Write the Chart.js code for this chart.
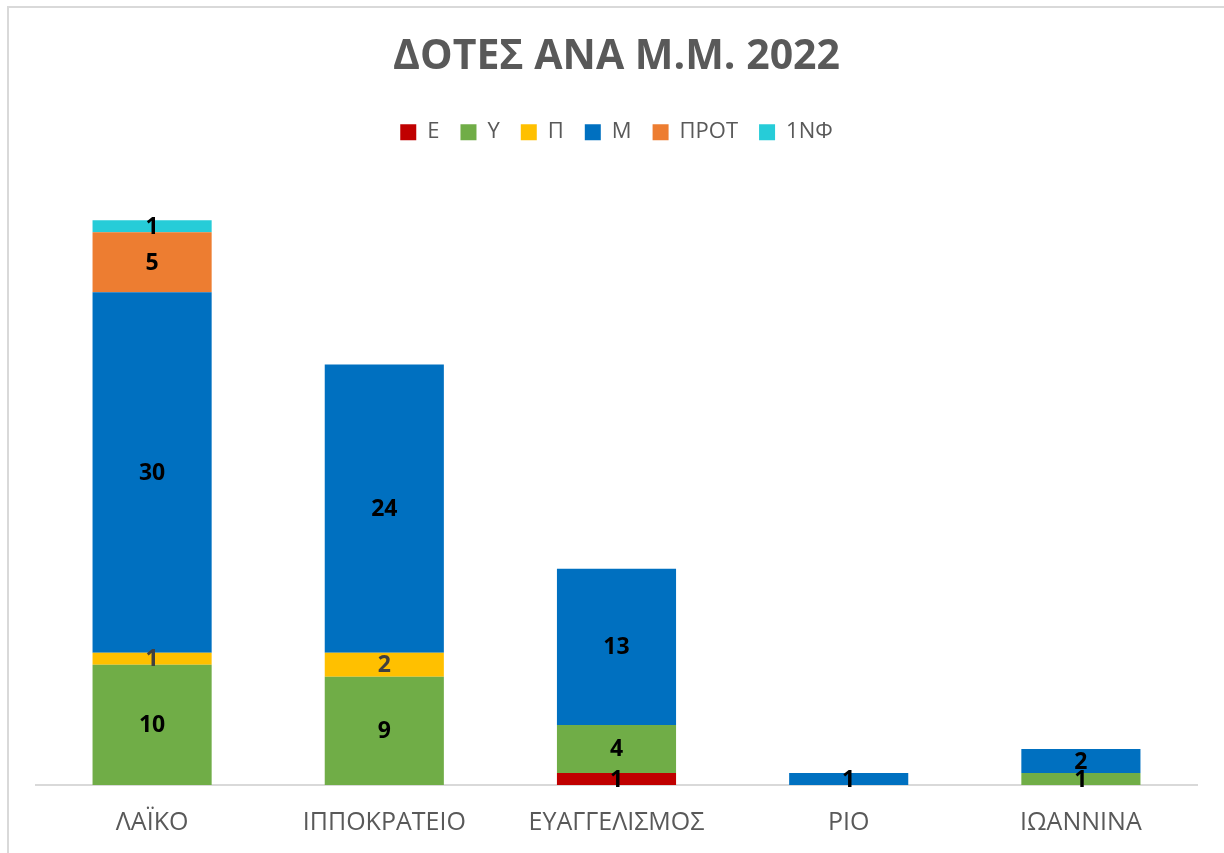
<!DOCTYPE html>
<html>
<head>
<meta charset="utf-8">
<script src="https://cdn.jsdelivr.net/npm/chart.js@4"></script>
<style>
    body { margin: 0; background: #fff; }
    #wrap { position: relative; width: 1224px; height: 853px; }
    #frame { position: absolute; left: 7px; top: 6px; width: 1230px; height: 860px; border: 2px solid #d9d9d9; box-sizing: border-box; pointer-events: none; }
    canvas { position: absolute; left: 0; top: 0; }
</style>
</head>
<body>
<div id="wrap">
    <canvas id="dotesChart" width="1224" height="853"></canvas>
    <div id="frame"></div>
</div>
<script>
const hospitals = ['ΛΑΪΚΟ', 'ΙΠΠΟΚΡΑΤΕΙΟ', 'ΕΥΑΓΓΕΛΙΣΜΟΣ', 'ΡΙΟ', 'ΙΩΑΝΝΙΝΑ'];
const seriesE    = [0, 0, 1, 0, 0];
const seriesY    = [10, 9, 4, 0, 1];
const seriesP    = [1, 2, 0, 0, 0];
const seriesM    = [30, 24, 13, 1, 2];
const seriesPROT = [5, 0, 0, 0, 0];
const series1NF  = [1, 0, 0, 0, 0];

const textGray = '#595959';

// draws the value in the middle of each segment
const segmentLabels = {
    id: 'segmentLabels',
    afterDatasetsDraw(chart) {
        const ctx = chart.ctx;
        ctx.save();
        ctx.font = 'bold 23px "Open Sans", sans-serif';
        ctx.textAlign = 'center';
        ctx.textBaseline = 'middle';
        chart.data.datasets.forEach((ds, i) => {
            const meta = chart.getDatasetMeta(i);
            meta.data.forEach((bar, j) => {
                const v = ds.data[j];
                if (!v) return;
                ctx.fillStyle = ds.labelColor || '#000';
                ctx.fillText(v, bar.x, (bar.y + bar.base) / 2 + 1);
            });
        });
        ctx.restore();
    }
};

// extra room under the legend
const legendGap = {
    id: 'legendGap',
    beforeInit(chart) {
        const fit = chart.legend.fit;
        chart.legend.fit = function () {
            fit.bind(chart.legend)();
            this.height += 31;
        };
    }
};

const ctx = document.getElementById('dotesChart').getContext('2d');
new Chart(ctx, {
    type: 'bar',
    data: {
        labels: hospitals,
        datasets: [
            { label: 'Ε', data: seriesE, backgroundColor: '#c00000' },
            { label: 'Υ', data: seriesY, backgroundColor: '#70ad47' },
            { label: 'Π', data: seriesP, backgroundColor: '#ffc000', labelColor: '#404040' },
            { label: 'Μ', data: seriesM, backgroundColor: '#0070c0' },
            { label: 'ΠΡΟΤ', data: seriesPROT, backgroundColor: '#ed7d31' },
            { label: '1ΝΦ', data: series1NF, backgroundColor: '#26ccd8' }
        ]
    },
    options: {
        responsive: false,
        animation: false,
        layout: { padding: { left: 36, right: 27, top: 27, bottom: 0 } },
        datasets: { bar: { barPercentage: 1, categoryPercentage: 0.513 } },
        plugins: {
            title: {
                display: true,
                text: 'ΔΟΤΕΣ ΑΝΑ Μ.Μ. 2022',
                color: textGray,
                font: { family: '"Open Sans", sans-serif', size: 41, weight: 'bold' },
                padding: { top: 6, bottom: 18 }
            },
            legend: {
                labels: {
                    color: textGray,
                    font: { family: '"Open Sans", sans-serif', size: 22 },
                    boxWidth: 16,
                    boxHeight: 16,
                    padding: 21
                }
            },
            tooltip: { enabled: false }
        },
        scales: {
            x: {
                stacked: true,
                grid: { display: false },
                border: { color: '#d9d9d9', width: 2 },
                ticks: {
                    color: textGray,
                    font: { family: '"Open Sans", sans-serif', size: 25 },
                    padding: 15
                }
            },
            y: {
                stacked: true,
                display: false,
                min: 0,
                max: 50
            }
        }
    },
    plugins: [segmentLabels, legendGap]
});
</script>
</body>
</html>
